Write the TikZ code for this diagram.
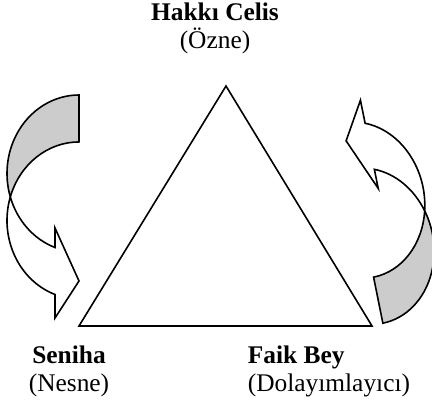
\documentclass[tikz,border=0pt]{standalone}
\usepackage{fontspec}
\setmainfont{Liberation Serif}
\tikzset{
  namebox/.style={align=center, inner sep=0pt, font=\fontsize{12.7}{14}\selectfont},
  backband/.style={fill=black!20},
  frontband/.style={fill=white}
}
% curved band arrow, origin at the twist
\def\bentarrow{%
  \draw[backband] (0,102) arc[start angle=90, end angle=197.4, x radius=72, y radius=78.5]
    arc[start angle=162.6, end angle=90, x radius=72, y radius=78.5] -- cycle;
  \draw[frontband] (-68.7,0) arc[start angle=162.6, end angle=250.5, x radius=72, y radius=78.5]
    -- (-24,-121) -- (0,-84) -- (-24,-31) -- (-24,-50.5)
    arc[start angle=250.5, end angle=197.4, x radius=72, y radius=78.5] -- cycle;
}

\begin{document}
\begin{tikzpicture}[x=0.5pt, y=0.5pt, line width=0.8pt, line join=miter]
  \useasboundingbox (0,0) rectangle (432,412);

  % triangle
  \coordinate (apex) at (226,326);
  \coordinate (bl) at (79,86);
  \coordinate (br) at (372,86);
  \draw (apex) -- (bl) -- (br) -- cycle;

  % arrows
  \begin{scope}[shift={(79,215)}]
    \bentarrow
  \end{scope}
  \begin{scope}[shift={(362.7,188.8)}, rotate=191.4, xscale=0.92]
    \bentarrow
  \end{scope}

  % names
  \node[namebox] (ozne) at (215,384) {\textbf{Hakkı Celis}\\(Özne)};
  \node[namebox] (nesne) at (69,41) {\textbf{Seniha}\\(Nesne)};
  \node[namebox, align=left, anchor=west] (dolayim) at (247,41) {\textbf{Faik Bey}\\(Dolayımlayıcı)};
\end{tikzpicture}
\end{document}
